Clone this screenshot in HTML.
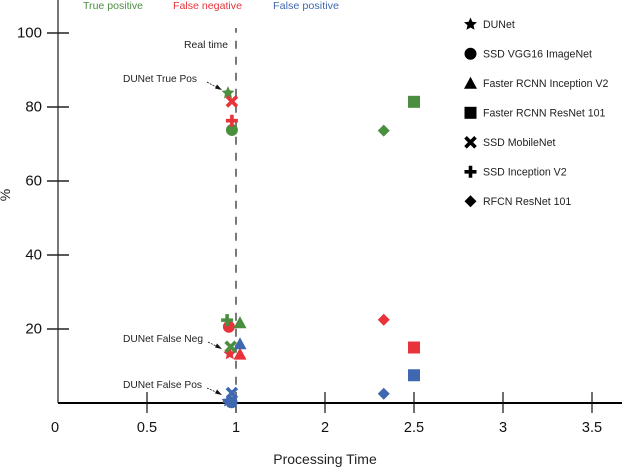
<!DOCTYPE html>
<html lang="en">
<head>
<meta charset="utf-8">
<title>Processing time chart</title>
<style>
html,body{margin:0;padding:0;background:#fff;width:622px;height:468px;overflow:hidden}
svg{display:block}
text{font-family:"Liberation Sans",sans-serif}
</style>
</head>
<body>
<svg id="chart" xmlns="http://www.w3.org/2000/svg" width="622" height="468" viewBox="0 0 622 468">
  <g id="axes"></g>
  <line x1="236" y1="28" x2="236" y2="403" stroke="#7a7a7a" stroke-width="2" stroke-dasharray="8 8" stroke-dashoffset="3.3"></line>
  <g id="marks"></g>

  <text x="83" y="9" font-size="10.5" fill="#4a8f3f" textLength="60" lengthAdjust="spacingAndGlyphs">True positive</text>
  <text x="173" y="9" font-size="10.5" fill="#e9333a" textLength="69" lengthAdjust="spacingAndGlyphs">False negative</text>
  <text x="273" y="9" font-size="10.5" fill="#3f68b0" textLength="66" lengthAdjust="spacingAndGlyphs">False positive</text>

  <text x="184" y="48" font-size="10.4" fill="#222" textLength="44" lengthAdjust="spacingAndGlyphs">Real time</text>
  <text x="123" y="82" font-size="10.4" fill="#222" textLength="74" lengthAdjust="spacingAndGlyphs">DUNet True Pos</text>
  <text x="123" y="342" font-size="10.4" fill="#222" textLength="80" lengthAdjust="spacingAndGlyphs">DUNet False Neg</text>
  <text x="123" y="388" font-size="10.4" fill="#222" textLength="79" lengthAdjust="spacingAndGlyphs">DUNet False Pos</text>

  <g stroke="#111" fill="#111">
    <line x1="207" y1="82" x2="217" y2="87.5" stroke-width="0.8" stroke-dasharray="2 1.2"></line>
    <polygon points="222,90 215,88.5 217,84.5" stroke="none"></polygon>
    <line x1="208" y1="342" x2="217" y2="346.5" stroke-width="0.8" stroke-dasharray="2 1.2"></line>
    <polygon points="222,349 215,347.5 217,343.5" stroke="none"></polygon>
    <line x1="207" y1="388" x2="217" y2="392.5" stroke-width="0.8" stroke-dasharray="2 1.2"></line>
    <polygon points="222,395 215,393.5 217,389.5" stroke="none"></polygon>
  </g>

  <text x="325" y="464" font-size="14" fill="#222" text-anchor="middle">Processing Time</text>
  <text transform="translate(10,195) rotate(-90)" font-size="14" fill="#222" text-anchor="middle">%</text>

  <g id="legend"></g>
</svg>

<script>
const models = ["DUNet", "SSD VGG16 ImageNet", "Faster RCNN Inception V2", "Faster RCNN ResNet 101", "SSD MobileNet", "SSD Inception V2", "RFCN ResNet 101"];
const modelKeys = ["star", "circle", "triangle", "square", "cross", "plus", "diamond"];
const metrics = ["true-positive", "false-negative", "false-positive"];
const metricColors = ["#4a8f3f", "#e9333a", "#3f68b0"];

const truePosTime = [0.955, 0.977, 1.045, 2.5, 0.97, 0.95, 2.33];
const falseNegTime = [0.965, 0.96, 1.045, 2.5, 0.977, 0.977, 2.33];
const falsePosTime = [0.955, 0.975, 1.045, 2.5, 0.977, 0.96, 2.33];

const truePosValues = [83.8, 73.8, 21.7, 81.4, 15.2, 22.4, 73.6];
const falseNegValues = [13.3, 20.6, 13.2, 15, 81.5, 76.3, 22.5];
const falsePosValues = [0.5, 0.2, 16, 7.5, 2.7, 0.5, 2.5];

const xTickLabels = [0, 0.5, 1, 2, 2.5, 3, 3.5];
const yTickLabels = [20, 40, 60, 80, 100];

const NS = "http://www.w3.org/2000/svg";
const X0 = 58, X_STEP = 89, Y0 = 403, Y_UNIT = 3.7;

function xScale(v) {
  for (let i = 0; i < xTickLabels.length - 1; i++) {
    if (v <= xTickLabels[i + 1]) {
      const f = (v - xTickLabels[i]) / (xTickLabels[i + 1] - xTickLabels[i]);
      return X0 + X_STEP * (i + f);
    }
  }
  return X0 + X_STEP * (xTickLabels.length - 1);
}
function yScale(v) { return Y0 - v * Y_UNIT; }

function make(tag, attrs, parent) {
  const el = document.createElementNS(NS, tag);
  for (const k in attrs) el.setAttribute(k, attrs[k]);
  parent.appendChild(el);
  return el;
}

function drawMarker(kind, cx, cy, color, parent) {
  let el;
  if (kind === "star") {
    const pts = [];
    for (let i = 0; i < 10; i++) {
      const r = i % 2 ? 3.2 : 6.8;
      const a = -Math.PI / 2 + i * Math.PI / 5;
      pts.push((cx + r * Math.cos(a)).toFixed(2) + "," + (cy + r * Math.sin(a)).toFixed(2));
    }
    el = make("polygon", {points: pts.join(" "), fill: color}, parent);
  } else if (kind === "circle") {
    el = make("circle", {cx: cx, cy: cy, r: 6, fill: color}, parent);
  } else if (kind === "triangle") {
    el = make("polygon", {points: [cx, cy - 6.5, cx + 6.5, cy + 5.5, cx - 6.5, cy + 5.5].join(" "), fill: color}, parent);
  } else if (kind === "square") {
    el = make("rect", {x: cx - 6, y: cy - 6, width: 12, height: 12, fill: color}, parent);
  } else if (kind === "cross") {
    el = make("path", {d: `M${cx - 5} ${cy - 5}L${cx + 5} ${cy + 5}M${cx + 5} ${cy - 5}L${cx - 5} ${cy + 5}`, stroke: color, "stroke-width": 3.6, fill: "none"}, parent);
  } else if (kind === "plus") {
    el = make("path", {d: `M${cx - 6} ${cy}L${cx + 6} ${cy}M${cx} ${cy - 6}L${cx} ${cy + 6}`, stroke: color, "stroke-width": 3.6, fill: "none"}, parent);
  } else {
    el = make("polygon", {points: [cx, cy - 6, cx + 6, cy, cx, cy + 6, cx - 6, cy].join(" "), fill: color}, parent);
  }
  return el;
}

const axes = document.getElementById("axes");

const yAxisLine = make("line", {x1: X0, y1: 0, x2: X0, y2: Y0, stroke: "#555", "stroke-width": 1.6}, axes);



const xAxisLine = make("line", {x1: X0, y1: Y0, x2: 622, y2: Y0, stroke: "#000", "stroke-width": 2}, axes);



yTickLabels.forEach(function (v) {
  const y = yScale(v);
  const tick = make("line", {x1: 47, y1: y, x2: 69, y2: y, stroke: "#222", "stroke-width": 1.4}, axes);
  
  
  const label = make("text", {x: 42, y: y + 4.5, "font-size": 15, fill: "#111", "text-anchor": "end"}, axes);
  label.textContent = v;
  
  
});

xTickLabels.forEach(function (v) {
  const x = xScale(v);
  if (v !== 0) {
    const tick = make("line", {x1: x, y1: 392, x2: x, y2: 413, stroke: "#111", "stroke-width": 1.2}, axes);
    
    
  }
  const label = make("text", {x: v === 0 ? 55 : x, y: 432, "font-size": 14.5, fill: "#111", "text-anchor": "middle"}, axes);
  label.textContent = v;
  
  
});

const marks = document.getElementById("marks");
const metricTimes = [truePosTime, falseNegTime, falsePosTime];
const metricValues = [truePosValues, falseNegValues, falsePosValues];

modelKeys.forEach(function (kind, i) {
  metrics.forEach(function (metric, m) {
    const mark = drawMarker(kind, xScale(metricTimes[m][i]), yScale(metricValues[m][i]), metricColors[m], marks);
    
    
  });
});

const legend = document.getElementById("legend");
models.forEach(function (name, i) {
  const y = 24.3 + i * 29.5;
  const icon = drawMarker(modelKeys[i], 470.5, y, "#000", legend);
  
  
  const label = make("text", {x: 483, y: y + 3.5, "font-size": 10.6, fill: "#222"}, legend);
  label.textContent = name;
  
  
});
</script>
</body>
</html>
